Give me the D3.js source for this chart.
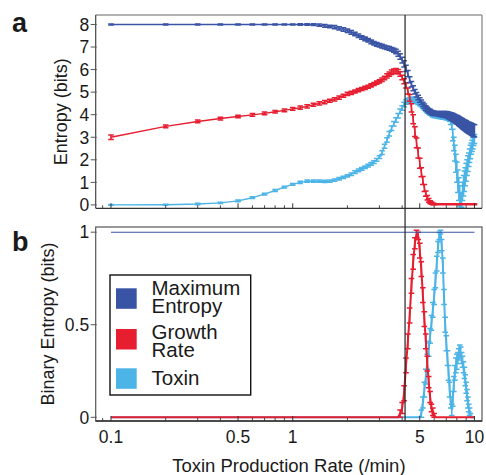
<!DOCTYPE html>
<html><head><meta charset="utf-8">
<script src="https://cdn.jsdelivr.net/npm/d3@7"></script>
<style>
body{margin:0;background:#fff}
svg{display:block}
text{font-family:"Liberation Sans",Arial,Helvetica,sans-serif;fill:#1a1a1a}
</style>
</head><body>
<svg id="chart" width="486" height="475"></svg>
<script>
// ---------- DATA ----------
const rates = [
 0.1,0.2,0.3,0.4,0.5,0.6,0.7,0.8,0.9,1.0,
 1.1,1.2,1.3,1.4,1.5,1.6,1.7,1.8,1.9,2.0,
 2.1,2.2,2.3,2.4,2.5,2.6,2.7,2.8,2.9,3.0,
 3.1,3.2,3.3,3.4,3.5,3.6,3.7,3.8,3.9,4.0,
 4.1,4.2,4.3,4.4,4.5,4.6,4.7,4.8,4.9,5.0,
 5.1,5.2,5.3,5.4,5.5,5.6,5.7,5.8,5.9,6.0,
 6.1,6.2,6.3,6.4,6.5,6.6,6.7,6.8,6.9,7.0,
 7.1,7.2,7.3,7.4,7.5,7.6,7.7,7.8,7.9,8.0,
 8.1,8.2,8.3,8.4,8.5,8.6,8.7,8.8,8.9,9.0,
 9.1,9.2,9.3,9.4,9.5,9.6,9.7,9.8,9.9,10.0];

// Panel a: entropy (bits)
const maxEntropy = [
 8.00,8.00,8.00,8.00,8.00,8.00,8.00,8.00,8.00,8.00,
 8.00,8.00,7.99,7.97,7.94,7.91,7.88,7.83,7.78,7.72,
 7.65,7.58,7.50,7.42,7.36,7.30,7.23,7.17,7.12,7.08,
 7.04,7.00,6.97,6.94,6.90,6.86,6.80,6.70,6.58,6.42,
 6.25,6.05,5.82,5.55,5.35,5.17,5.02,4.88,4.76,4.65,
 4.55,4.45,4.37,4.30,4.23,4.18,4.14,4.10,4.08,4.06,
 4.05,4.05,4.04,4.04,4.03,4.03,4.02,4.02,4.01,4.00,
 3.99,3.97,3.95,3.93,3.91,3.88,3.86,3.83,3.80,3.78,
 3.75,3.72,3.69,3.66,3.63,3.60,3.57,3.54,3.52,3.49,
 3.46,3.44,3.42,3.40,3.38,3.36,3.34,3.32,3.30,3.28];
const maxEntropyErr = [
 0.02,0.02,0.02,0.02,0.02,0.02,0.02,0.02,0.02,0.02,
 0.03,0.03,0.04,0.05,0.06,0.06,0.07,0.07,0.08,0.08,
 0.08,0.08,0.08,0.08,0.08,0.08,0.08,0.08,0.08,0.08,
 0.08,0.08,0.08,0.08,0.08,0.09,0.10,0.11,0.12,0.13,
 0.14,0.14,0.14,0.13,0.12,0.11,0.10,0.10,0.10,0.10,
 0.10,0.10,0.10,0.10,0.10,0.10,0.10,0.10,0.10,0.10,
 0.10,0.10,0.10,0.11,0.11,0.12,0.12,0.13,0.13,0.14,
 0.14,0.15,0.15,0.16,0.16,0.17,0.17,0.18,0.18,0.19,
 0.19,0.20,0.20,0.21,0.21,0.22,0.22,0.23,0.23,0.24,
 0.24,0.24,0.25,0.25,0.25,0.26,0.26,0.26,0.27,0.27];

const growthRate = [
 3.00,3.48,3.70,3.83,3.92,3.99,4.06,4.13,4.19,4.26,
 4.31,4.37,4.44,4.50,4.56,4.62,4.68,4.76,4.84,4.92,
 4.97,5.03,5.09,5.14,5.19,5.24,5.30,5.36,5.42,5.48,
 5.55,5.63,5.72,5.80,5.88,5.93,5.95,5.90,5.80,5.65,
 5.48,5.30,5.05,4.75,4.30,3.80,3.25,2.75,2.30,1.85,
 1.45,1.08,0.75,0.50,0.32,0.20,0.12,0.08,0.05,0.03,
 0.03,0.03,0.03,0.03,0.03,0.03,0.03,0.03,0.03,0.03,
 0.03,0.03,0.03,0.03,0.03,0.03,0.03,0.03,0.03,0.03,
 0.03,0.03,0.03,0.03,0.03,0.03,0.03,0.03,0.03,0.03,
 0.03,0.03,0.03,0.03,0.03,0.03,0.03,0.03,0.03,0.03];
const growthRateErr = [
 0.10,0.06,0.06,0.06,0.06,0.06,0.06,0.06,0.06,0.06,
 0.07,0.07,0.07,0.07,0.07,0.07,0.07,0.07,0.07,0.07,
 0.07,0.07,0.07,0.07,0.07,0.07,0.07,0.07,0.07,0.07,
 0.08,0.08,0.09,0.09,0.10,0.10,0.10,0.10,0.10,0.10,
 0.11,0.12,0.13,0.15,0.18,0.20,0.22,0.22,0.22,0.22,
 0.20,0.18,0.15,0.12,0.10,0.08,0.06,0.05,0.04,0.03,
 0.02,0.02,0.02,0.02,0.02,0.02,0.02,0.02,0.02,0.02,
 0.02,0.02,0.02,0.02,0.02,0.02,0.02,0.02,0.02,0.02,
 0.02,0.02,0.02,0.02,0.02,0.02,0.02,0.02,0.02,0.02,
 0.02,0.02,0.02,0.02,0.02,0.02,0.02,0.02,0.02,0.02];

const toxin = [
 0.00,0.01,0.04,0.09,0.18,0.32,0.48,0.64,0.79,0.91,
 1.00,1.05,1.06,1.05,1.04,1.05,1.10,1.16,1.22,1.29,
 1.36,1.45,1.53,1.60,1.67,1.74,1.82,1.90,2.00,2.12,
 2.32,2.60,2.88,3.15,3.40,3.60,3.77,3.95,4.15,4.30,
 4.45,4.56,4.62,4.66,4.68,4.67,4.65,4.60,4.55,4.50,
 4.45,4.38,4.30,4.24,4.18,4.13,4.08,4.04,4.00,3.98,
 3.96,3.95,3.94,3.93,3.92,3.91,3.90,3.90,3.89,3.88,
 3.87,3.85,3.82,3.72,3.55,3.10,2.70,2.30,1.85,1.45,
 1.05,0.70,0.40,0.20,0.20,0.60,0.85,1.05,1.25,1.45,
 1.65,1.83,2.00,2.18,2.35,2.50,2.62,2.73,2.83,2.92];
const toxinErr = [
 0.02,0.02,0.03,0.03,0.04,0.04,0.04,0.04,0.04,0.04,
 0.05,0.05,0.05,0.05,0.05,0.05,0.05,0.05,0.05,0.05,
 0.06,0.06,0.06,0.06,0.06,0.06,0.06,0.06,0.06,0.06,
 0.08,0.09,0.10,0.10,0.10,0.10,0.10,0.10,0.10,0.10,
 0.10,0.10,0.10,0.10,0.10,0.10,0.10,0.10,0.10,0.10,
 0.10,0.10,0.10,0.10,0.10,0.10,0.10,0.10,0.10,0.10,
 0.10,0.10,0.10,0.10,0.10,0.10,0.10,0.10,0.10,0.10,
 0.10,0.10,0.12,0.15,0.20,0.25,0.30,0.35,0.40,0.45,
 0.50,0.50,0.45,0.35,0.30,0.40,0.45,0.45,0.40,0.40,
 0.35,0.35,0.30,0.30,0.30,0.25,0.25,0.25,0.20,0.20];

// Panel b: binary entropy (bits)
const binMaxEntropy = [
 1,1,1,1,1,1,1,1,1,1, 1,1,1,1,1,1,1,1,1,1,
 1,1,1,1,1,1,1,1,1,1, 1,1,1,1,1,1,1,1,1,1,
 1,1,1,1,1,1,1,1,1,1, 1,1,1,1,1,1,1,1,1,1,
 1,1,1,1,1,1,1,1,1,1, 1,1,1,1,1,1,1,1,1,1,
 1,1,1,1,1,1,1,1,1,1, 1,1,1,1,1,1,1,1,1,1];
const binGrowth = [
 0,0,0,0,0,0,0,0,0,0, 0,0,0,0,0,0,0,0,0,0,
 0,0,0,0,0,0,0,0,0,0,
 0,0,0,0,0,0,0,0,0.02,0.05,
 0.13,0.28,0.41,0.55,0.71,0.84,0.94,0.99,0.98,0.90,
 0.80,0.66,0.53,0.41,0.29,0.19,0.11,0.05,0.03,0.01,
 0,0,0,0,0,0,0,0,0,0, 0,0,0,0,0,0,0,0,0,0,
 0,0,0,0,0,0,0,0,0,0, 0,0,0,0,0,0,0,0,0,0];
const binGrowthErr = [
 0,0,0,0,0,0,0,0,0,0, 0,0,0,0,0,0,0,0,0,0,
 0,0,0,0,0,0,0,0,0,0,
 0,0,0,0,0,0,0,0,0.02,0.03,
 0.04,0.04,0.04,0.04,0.04,0.04,0.03,0.02,0.02,0.04,
 0.04,0.04,0.04,0.04,0.04,0.03,0.03,0.02,0.02,0.01,
 0,0,0,0,0,0,0,0,0,0, 0,0,0,0,0,0,0,0,0,0,
 0,0,0,0,0,0,0,0,0,0, 0,0,0,0,0,0,0,0,0,0];
const binToxin = [
 0,0,0,0,0,0,0,0,0,0, 0,0,0,0,0,0,0,0,0,0,
 0,0,0,0,0,0,0,0,0,0, 0,0,0,0,0,0,0,0,0,0,
 0,0,0,0,0,0,0,0,0,0,
 0.02,0.08,0.15,0.22,0.30,0.37,0.44,0.51,0.58,0.65,
 0.74,0.83,0.92,0.98,1.00,0.93,0.82,0.65,0.50,0.40,
 0.32,0.24,0.15,0.08,0.04,0.10,0.18,0.24,0.28,0.30,
 0.32,0.34,0.36,0.35,0.32,0.30,0.27,0.24,0.20,0.16,
 0.12,0.08,0.05,0.03,0.01,0,0,0,0,0];
const binToxinErr = [
 0,0,0,0,0,0,0,0,0,0, 0,0,0,0,0,0,0,0,0,0,
 0,0,0,0,0,0,0,0,0,0, 0,0,0,0,0,0,0,0,0,0,
 0,0,0,0,0,0,0,0,0,0,
 0.02,0.03,0.04,0.04,0.04,0.04,0.04,0.04,0.04,0.04,
 0.04,0.04,0.03,0.02,0.01,0.03,0.04,0.04,0.04,0.04,
 0.04,0.04,0.04,0.03,0.03,0.04,0.04,0.04,0.04,0.04,
 0.03,0.03,0.03,0.03,0.03,0.03,0.03,0.03,0.03,0.03,
 0.03,0.03,0.02,0.02,0.01,0,0,0,0,0];

const thresholdRate = 4.15;
const xMajorTicks = [0.1, 0.5, 1, 5, 10];
const xTickLabels = ["0.1", "0.5", "1", "5", "10"];
const xMinorTicks = [0.09,0.2,0.3,0.4,0.6,0.7,0.8,0.9,2,3,4,6,7,8,9];
const yTicksA = [0,1,2,3,4,5,6,7,8];
const yTicksB = [0, 0.5, 1];
const yTickLabelsB = ["0", "0.5", "1"];
const legendLabels = [["Maximum","Entropy"],["Growth","Rate"],["Toxin"]];

// ---------- STYLE ----------
const C_MAX = "#3a54a5", C_GROW = "#e61e30", C_TOX = "#4cb4e7";

const svg = d3.select("#chart");
const L = 95.7, R = 482;
const x = d3.scaleLog().domain([0.0824, 11.0]).range([L, R]);
const yA = d3.scaleLinear().domain([-0.15, 8.42]).range([208.3, 15]);
const yB = d3.scaleLinear().domain([-0.02, 1.028]).range([421, 227]);

const defs = svg.append("defs");
defs.append("clipPath").attr("id","clipA").append("rect")
  .attr("x",L).attr("y",15).attr("width",R-L).attr("height",208.3-15);
defs.append("clipPath").attr("id","clipB").append("rect")
  .attr("x",L).attr("y",227).attr("width",R-L).attr("height",421-227);

function drawSeries(g, y, vals, errs, color, lw, cap) {
  const pts = rates.map((r,i)=>({x:r, v:vals[i], e:errs[i]}));
  g.append("path").datum(pts)
    .attr("fill","none").attr("stroke",color).attr("stroke-width",lw)
    .attr("stroke-linejoin","round")
    .attr("d", d3.line().x(d=>x(d.x)).y(d=>y(d.v)));
  let p = "";
  pts.forEach(d=>{
    if (d.e <= 0) return;
    const cx = x(d.x), y1 = y(d.v - d.e), y2 = y(d.v + d.e);
    p += `M${cx-cap},${y1}H${cx+cap}M${cx},${y1}V${y2}M${cx-cap},${y2}H${cx+cap}`;
  });
  if (p) g.append("path").attr("d",p).attr("fill","none")
    .attr("stroke",color).attr("stroke-width",1.5);
}

function xTicks(yBase) {
  const g = svg.append("g");
  xMajorTicks.forEach(t=>{
    g.append("line").attr("x1",x(t)).attr("x2",x(t))
      .attr("y1",yBase).attr("y2",yBase-5).attr("stroke","#333").attr("stroke-width",1);
  });
  xMinorTicks.forEach(t=>{
    g.append("line").attr("x1",x(t)).attr("x2",x(t))
      .attr("y1",yBase).attr("y2",yBase-3).attr("stroke","#333").attr("stroke-width",0.9);
  });
}

// ---------- PANEL A ----------
const gA = svg.append("g").attr("clip-path","url(#clipA)");
drawSeries(gA, yA, toxin, toxinErr, C_TOX, 1.4, 2.8);
drawSeries(gA, yA, growthRate, growthRateErr, C_GROW, 1.4, 2.8);
drawSeries(gA, yA, maxEntropy, maxEntropyErr, C_MAX, 1.4, 2.8);

svg.append("line").attr("x1",L).attr("x2",R).attr("y1",15).attr("y2",15).attr("stroke","#999").attr("stroke-width",1.5);
svg.append("line").attr("x1",R).attr("x2",R).attr("y1",15).attr("y2",208.3).attr("stroke","#999").attr("stroke-width",1.5);
svg.append("line").attr("x1",L).attr("x2",L).attr("y1",15).attr("y2",208.3).attr("stroke","#444").attr("stroke-width",1.2);
svg.append("line").attr("x1",L).attr("x2",R).attr("y1",208.3).attr("y2",208.3).attr("stroke","#333").attr("stroke-width",1.3);
xTicks(208.3);
yTicksA.forEach(t=>{
  svg.append("line").attr("x1",L-5).attr("x2",L+1).attr("y1",yA(t)).attr("y2",yA(t)).attr("stroke","#555").attr("stroke-width",1);
  svg.append("text").attr("x",L-6.5).attr("y",yA(t)).attr("dy","0.36em")
    .attr("text-anchor","end").attr("font-size",17.5).text(String(t));
});
svg.append("text").attr("transform",`translate(67,${(15+208.3)/2}) rotate(-90)`)
  .attr("text-anchor","middle").attr("font-size",18).text("Entropy (bits)");
svg.append("text").attr("x",12).attr("y",31.7).attr("font-size",27).attr("font-weight","bold").text("a");

// ---------- PANEL B ----------
const gB = svg.append("g").attr("clip-path","url(#clipB)");
drawSeries(gB, yB, binToxin, binToxinErr, C_TOX, 2, 2.8);
drawSeries(gB, yB, binGrowth, binGrowthErr, C_GROW, 2, 2.8);
drawSeries(gB, yB, binMaxEntropy, binMaxEntropy.map(()=>0), C_MAX, 1.1, 2.8);

svg.append("rect").attr("x",L).attr("y",227).attr("width",R-L).attr("height",421-227)
  .attr("fill","none").attr("stroke","#555").attr("stroke-width",1.2);
svg.append("line").attr("x1",L).attr("x2",R).attr("y1",421).attr("y2",421).attr("stroke","#333").attr("stroke-width",1.3);
xTicks(421);
yTicksB.forEach((t,i)=>{
  svg.append("line").attr("x1",L-5).attr("x2",L+1).attr("y1",yB(t)).attr("y2",yB(t)).attr("stroke","#555").attr("stroke-width",1);
  svg.append("text").attr("x",L-6.5).attr("y",yB(t)).attr("dy","0.36em")
    .attr("text-anchor","end").attr("font-size",17.5).text(yTickLabelsB[i]);
});
xMajorTicks.forEach((t,i)=>{
  svg.append("text").attr("x",x(t)).attr("y",442.7).attr("text-anchor","middle")
    .attr("font-size",17.5).text(xTickLabels[i]);
});
svg.append("text").attr("transform",`translate(54,${(227+421)/2}) rotate(-90)`)
  .attr("text-anchor","middle").attr("font-size",18).text("Binary Entropy (bits)");
svg.append("text").attr("x",(L+R)/2).attr("y",471.5).attr("text-anchor","middle")
  .attr("font-size",18.5).text("Toxin Production Rate (/min)");
svg.append("text").attr("x",12).attr("y",251).attr("font-size",27).attr("font-weight","bold").text("b");

// threshold line through both panels
svg.append("line").attr("x1",x(thresholdRate)).attr("x2",x(thresholdRate))
  .attr("y1",15).attr("y2",421).attr("stroke","#222").attr("stroke-width",1.2);

// ---------- LEGEND ----------
const lg = svg.append("g");
lg.append("rect").attr("x",110).attr("y",275).attr("width",140.7).attr("height",120)
  .attr("fill","#fff").attr("stroke","#111").attr("stroke-width",1.4);
const swY = [288.3, 329, 368.3];
const txtY = [[295, 312.7],[339.3, 356.8],[385]];
[C_MAX, C_GROW, C_TOX].forEach((c,i)=>{
  lg.append("rect").attr("x",116).attr("y",swY[i]).attr("width",20.7).attr("height",20.5).attr("fill",c);
  const t = lg.append("text").attr("x",151.5).attr("font-size",20.5);
  legendLabels[i].forEach((s,j)=>{
    t.append("tspan").attr("x",151.5).attr("y",txtY[i][j]).text(s);
  });
});
</script>
</body></html>
